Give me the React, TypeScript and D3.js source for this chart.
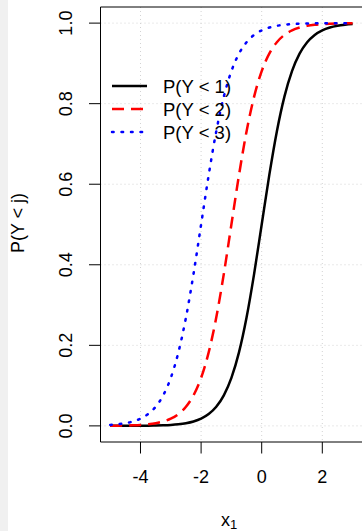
import React from "react";
import * as d3 from "d3";

const xs = [-5, -4.75, -4.5, -4.25, -4, -3.75, -3.5, -3.25, -3, -2.75, -2.5, -2.25, -2, -1.75, -1.5, -1.25, -1, -0.75, -0.5, -0.25, 0, 0.25, 0.5, 0.75, 1, 1.25, 1.5, 1.75, 2, 2.25, 2.5, 2.75, 3];
const pY1 = [0.00005, 0.00007, 0.00012, 0.0002, 0.00034, 0.00055, 0.00091, 0.0015, 0.00247, 0.00407, 0.00669, 0.011, 0.018, 0.0293, 0.0474, 0.0759, 0.1192, 0.1824, 0.2689, 0.3775, 0.5, 0.6225, 0.7311, 0.8176, 0.8808, 0.9241, 0.9526, 0.9707, 0.982, 0.989, 0.9933, 0.9959, 0.9975];
const pY2 = [0.00034, 0.00055, 0.00091, 0.0015, 0.00247, 0.00407, 0.00669, 0.011, 0.018, 0.0293, 0.0474, 0.0759, 0.1192, 0.1824, 0.2689, 0.3775, 0.5, 0.6225, 0.7311, 0.8176, 0.8808, 0.9241, 0.9526, 0.9707, 0.982, 0.989, 0.9933, 0.9959, 0.9975, 0.9985, 0.9991, 0.99945, 0.99966];
const pY3 = [0.00247, 0.00407, 0.00669, 0.011, 0.018, 0.0293, 0.0474, 0.0759, 0.1192, 0.1824, 0.2689, 0.3775, 0.5, 0.6225, 0.7311, 0.8176, 0.8808, 0.9241, 0.9526, 0.9707, 0.982, 0.989, 0.9933, 0.9959, 0.9975, 0.9985, 0.9991, 0.99945, 0.99966, 0.9998, 0.99988, 0.99993, 0.99995];
const xTicks = [-4, -2, 0, 2];
const yTicks = [0, 0.2, 0.4, 0.6, 0.8, 1.0];
const seriesNames = ["P(Y < 1)", "P(Y < 2)", "P(Y < 3)"];

const W = 362;
const H = 531;
const left = 100.5;
const top = 7;
const bottom = 442;
const font = "'Liberation Sans', Arial, sans-serif";

export default function App() {
  const x = d3.scaleLinear().domain([-5.32, 3.32]).range([left, 362.3]);
  const y = d3.scaleLinear().domain([-0.04, 1.04]).range([bottom, top]);
  const line = (vals: number[]) =>
    d3
      .line<number>()
      .x((_, i) => x(xs[i]))
      .y((v) => y(v))
      .curve(d3.curveMonotoneX)(vals) as string;

  const styles = [
    { stroke: "#000000", dash: undefined as string | undefined, cap: "butt" as const },
    { stroke: "#ff0000", dash: "12,7", cap: "butt" as const },
    { stroke: "#0000ff", dash: "1.6,7.9", cap: "round" as const },
  ];
  const series = [pY1, pY2, pY3];

  return (
    <svg width={W} height={H} style={{ position: "absolute", left: 0, top: 0, background: "#fff" }}>
      <rect x={0} y={0} width={8} height={H} fill="#f0f0f0" />
      {/* grid */}
      {xTicks.map((t) => (
        <line key={"gx" + t} x1={x(t)} x2={x(t)} y1={top} y2={bottom} stroke="#d3d3d3" strokeWidth={1} strokeDasharray="1,3" />
      ))}
      {yTicks.map((t) => (
        <line key={"gy" + t} x1={left} x2={W} y1={y(t)} y2={y(t)} stroke="#d3d3d3" strokeWidth={1} strokeDasharray="1,3" />
      ))}
      {/* curves */}
      {series.map((s, i) => (
        <path key={"s" + i} d={line(s)} fill="none" stroke={styles[i].stroke} strokeWidth={2.5} strokeDasharray={styles[i].dash} strokeLinecap={styles[i].cap} />
      ))}
      {/* box */}
      <line x1={left} x2={left} y1={top} y2={bottom} stroke="#000" strokeWidth={1} />
      <line x1={left} x2={W} y1={top} y2={top} stroke="#000" strokeWidth={1} />
      <line x1={left} x2={W} y1={bottom} y2={bottom} stroke="#000" strokeWidth={1} />
      {/* y axis ticks */}
      {yTicks.map((t) => (
        <g key={"yt" + t}>
          <line x1={89} x2={left} y1={y(t)} y2={y(t)} stroke="#000" strokeWidth={1} />
          <text
            transform={`translate(72,${y(t)}) rotate(-90)`}
            textAnchor="middle"
            fontFamily={font}
            fontSize={18}
            fill="#000"
          >
            {t.toFixed(1)}
          </text>
        </g>
      ))}
      {/* x axis ticks */}
      {xTicks.map((t) => (
        <g key={"xt" + t}>
          <line x1={x(t)} x2={x(t)} y1={bottom} y2={453.5} stroke="#000" strokeWidth={1} />
          <text x={x(t)} y={483} textAnchor="middle" fontFamily={font} fontSize={18} fill="#000">
            {t}
          </text>
        </g>
      ))}
      {/* axis titles */}
      <text transform={`translate(24,223) rotate(-90)`} textAnchor="middle" fontFamily={font} fontSize={18} fill="#000">
        P(Y &lt; j)
      </text>
      <text x={229} y={525.5} textAnchor="middle" fontFamily={font} fontSize={18} fill="#000">
        x
        <tspan fontSize={13} dy={3}>1</tspan>
      </text>
      {/* legend */}
      {seriesNames.map((n, i) => {
        const ly = 86 + i * 23;
        return (
          <g key={"lg" + i}>
            <line x1={112} x2={147} y1={ly} y2={ly} stroke={styles[i].stroke} strokeWidth={2.5} strokeDasharray={styles[i].dash} strokeLinecap={styles[i].cap} />
            <text x={163} y={ly + 6.5} fontFamily={font} fontSize={18.5} fill="#000">
              {n}
            </text>
          </g>
        );
      })}
    </svg>
  );
}
